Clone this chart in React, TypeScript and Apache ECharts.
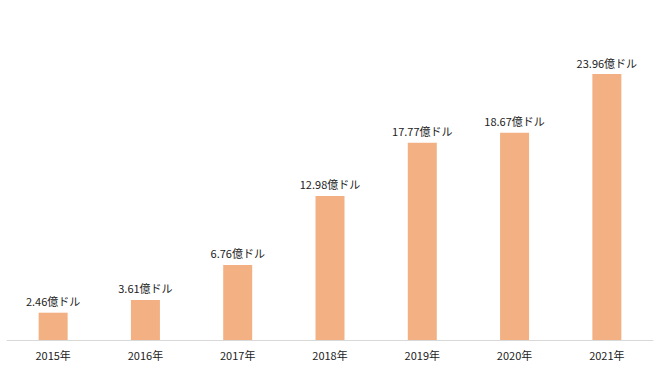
import React, { useEffect, useRef } from "react";
import * as echarts from "echarts";

const categories = ["2015年", "2016年", "2017年", "2018年", "2019年", "2020年", "2021年"];
const values = [2.46, 3.61, 6.76, 12.98, 17.77, 18.67, 23.96];
const unit = "億ドル";

export default function App() {
  const ref = useRef<HTMLDivElement>(null);
  useEffect(() => {
    if (!ref.current) return;
    const chart = echarts.init(ref.current, null, { renderer: "svg" });
    chart.setOption({
      animation: false,
      grid: { left: 7, right: 7, top: 7, bottom: 31, containLabel: false },
      xAxis: {
        type: "category",
        data: categories,
        axisLine: { show: true, lineStyle: { color: "#d9d9d9", width: 1 } },
        axisTick: { show: false },
        axisLabel: {
          color: "#222",
          fontSize: 11,
          fontFamily: "Noto Sans CJK JP",
          margin: 9,
        },
      },
      yAxis: {
        type: "value",
        min: 0,
        max: 30,
        show: false,
        splitLine: { show: false },
      },
      series: [
        {
          type: "bar",
          data: values,
          barWidth: 29,
          itemStyle: { color: "#F3B183" },
          label: {
            show: true,
            position: "top",
            distance: 6,
            color: "#222",
            fontSize: 11,
            fontFamily: "Noto Sans CJK JP",
            formatter: (p: any) => p.value.toFixed(2) + unit,
          },
        },
      ],
    });
    return () => chart.dispose();
  }, []);
  return <div ref={ref} style={{ width: 660, height: 371, position: "absolute", left: 0, top: 0, background: "#fff" }} />;
}
